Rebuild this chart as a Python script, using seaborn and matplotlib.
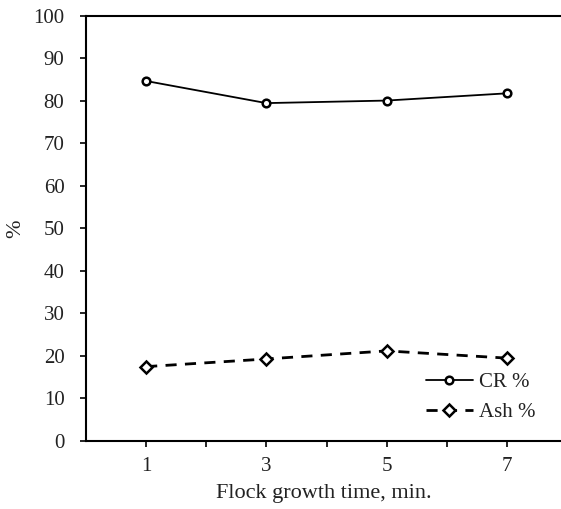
import numpy as np
import pandas as pd
import matplotlib
matplotlib.use("Agg")
import matplotlib.pyplot as plt
import seaborn as sns

# values
growth_time = [1, 3, 5, 7]
cr_pct = [84.7, 79.5, 80.1, 81.8]
ash_pct = [17.5, 19.3, 21.2, 19.5]

sns.set_style("ticks")
plt.rcParams['font.family'] = ['Liberation Serif', 'DejaVu Serif']

df = pd.DataFrame({'time': growth_time, 'CR %': cr_pct, 'Ash %': ash_pct})

fig = plt.figure(figsize=(5.61, 5.09), dpi=100)
ax = fig.add_axes([0.1533, 0.1336, 0.8467, 0.835])

sns.lineplot(data=df, x='time', y='CR %', ax=ax, color='black', lw=1.3,
             marker='o', markersize=5.5, markerfacecolor='white',
             markeredgecolor='black', markeredgewidth=1.8, label='CR %')
sns.lineplot(data=df, x='time', y='Ash %', ax=ax, color='black', lw=2.0,
             linestyle=(0, (4, 3)), marker='D', markersize=6.5,
             markerfacecolor='white', markeredgecolor='black',
             markeredgewidth=1.8, label='Ash %')

ax.set_xlim(0, 7.9)
ax.set_ylim(0, 100)
ax.set_xticks([1, 3, 5, 7])
ax.set_xticks([2, 4, 6], minor=True)
ax.set_yticks(np.arange(0, 101, 10))
ax.tick_params(axis='both', which='both', direction='out', length=4.5, width=1.2,
               labelsize=15, colors='black', labelcolor='#222222')
ax.tick_params(axis='x', pad=7)
ax.tick_params(axis='y', pad=11)
ax.set_xlabel('Flock growth time, min.', fontsize=16, color='#222222', labelpad=6)
ax.set_ylabel('%', fontsize=16, color='#222222', labelpad=6)

for side in ['left', 'bottom', 'top']:
    ax.spines[side].set_linewidth(1.5)
    ax.spines[side].set_color('black')
ax.spines['right'].set_visible(False)

ax.legend(loc='lower right', bbox_to_anchor=(0.985, 0.0), frameon=False,
          fontsize=15, handlelength=2.3, handletextpad=0.25, labelspacing=0.5,
          labelcolor='#222222')

fig.savefig('out.png', dpi=100)
